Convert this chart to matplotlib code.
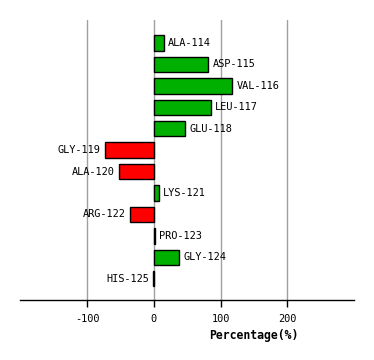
import numpy as np
import matplotlib
matplotlib.use("Agg")
import matplotlib.pyplot as plt

# residue labels and percentage change
residues = ["ALA-114", "ASP-115", "VAL-116", "LEU-117", "GLU-118", "GLY-119",
            "ALA-120", "LYS-121", "ARG-122", "PRO-123", "GLY-124", "HIS-125"]
values = [15, 81.5, 117.5, 86, 47, -73.5, -52.5, 8, -36, 1.5, 38, -1.5]
xticks = [-100, 0, 100, 200]

fig = plt.figure(figsize=(3.74, 3.60), dpi=100)
ax = fig.add_axes([0.0543, 0.1667, 0.893, 0.7777])

ypos = np.arange(len(residues))
colors = ["#00B000" if v >= 0 else "#FF0000" for v in values]
ax.barh(ypos, values, height=0.72, color=colors, edgecolor="black", linewidth=1.0, zorder=3)

for y, v, name in zip(ypos, values, residues):
    if v >= 0:
        ax.text(v + 6, y, name, ha="left", va="center", family="DejaVu Sans Mono", fontsize=7.4)
    else:
        ax.text(v - 6, y, name, ha="right", va="center", family="DejaVu Sans Mono", fontsize=7.4)

for t in xticks:
    ax.axvline(t, color="#A0A0A0", linewidth=1.0, zorder=1)

ax.set_xlim(-200, 300)
ax.set_ylim(11.99, -1.07)
ax.set_xticks(xticks)
ax.set_xticklabels([str(t) for t in xticks], family="DejaVu Sans Mono", fontsize=7.4)
ax.set_yticks([])
ax.tick_params(axis="x", length=5, width=1, color="black", pad=5)

for side in ["top", "right", "left"]:
    ax.spines[side].set_visible(False)
ax.spines["bottom"].set_linewidth(1.0)

ax.set_xlabel("Percentage(%)", family="DejaVu Sans Mono", fontsize=8.3, fontweight="bold")
ax.xaxis.set_label_coords(0.70, -0.103)

fig.savefig("out.png", dpi=100)
